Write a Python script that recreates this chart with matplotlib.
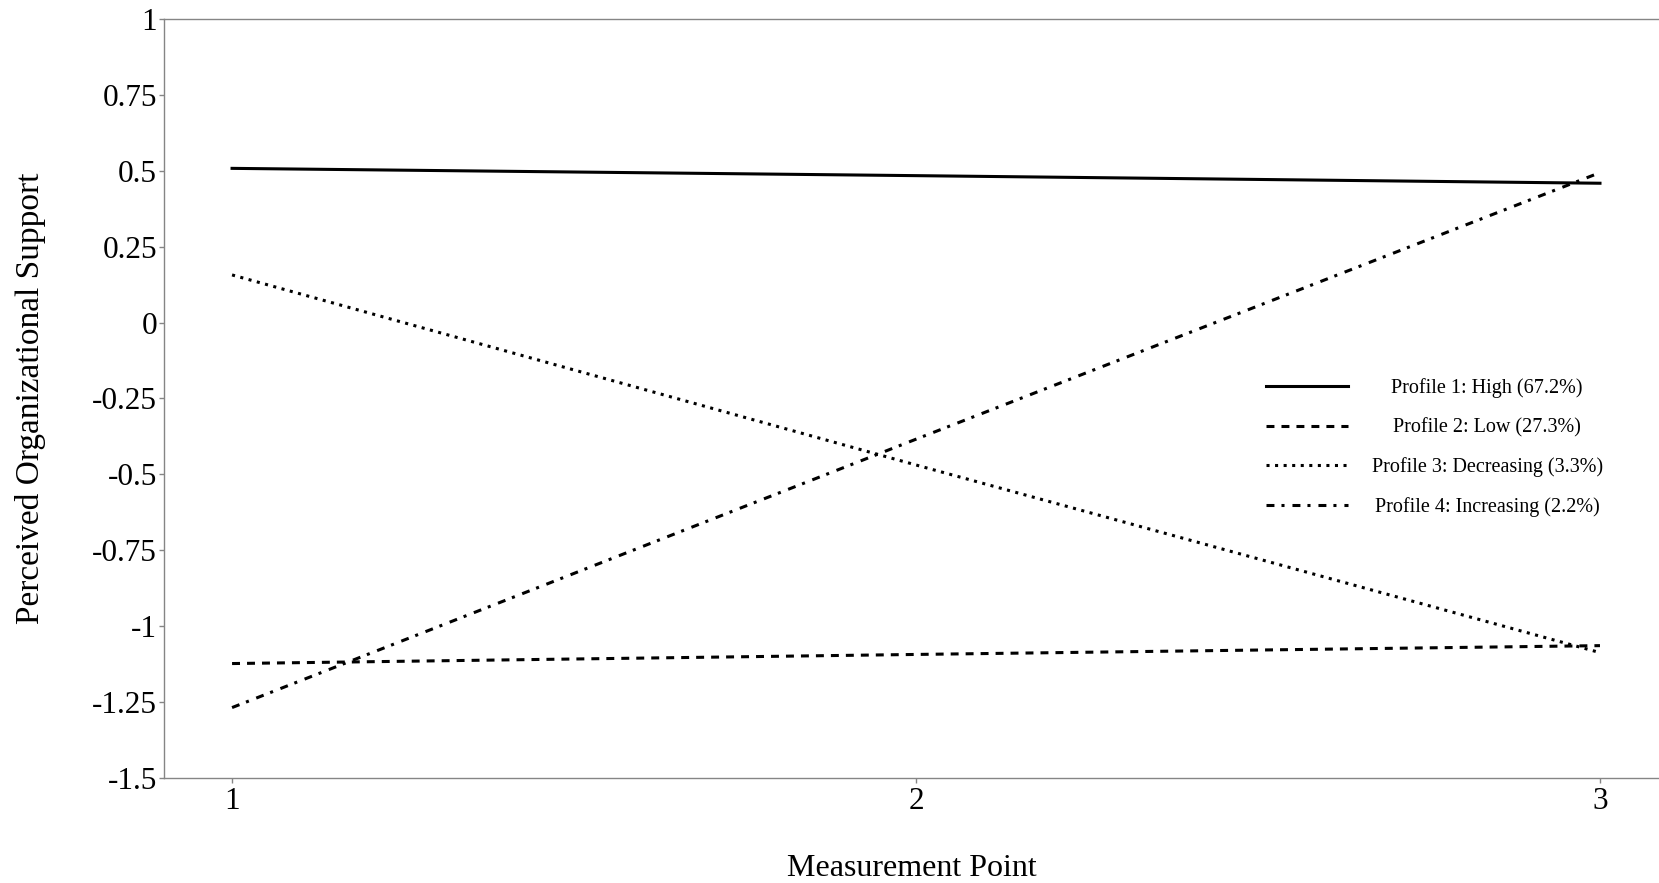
import matplotlib
matplotlib.use("Agg")
import matplotlib.pyplot as plt
from matplotlib.ticker import FuncFormatter, MultipleLocator

# Profile means of perceived organizational support at each measurement point
points = [1, 2, 3]
profileLabels = [
    "Profile 1: High (67.2%)",
    "Profile 2: Low (27.3%)",
    "Profile 3: Decreasing (3.3%)",
    "Profile 4: Increasing (2.2%)",
]
high = [0.508, 0.484, 0.459]
low = [-1.123, -1.093, -1.064]
decreasing = [0.157, -0.469, -1.087]
increasing = [-1.268, -0.384, 0.494]

# Line styles per profile (dash patterns in linewidth units)
styles = [
    "-",
    (0, (2.6, 2.3)),
    (0, (1.0, 1.8)),
    (0, (2.6, 2.3, 1.0, 2.6)),
]

plt.rcParams["font.family"] = ["Liberation Serif", "DejaVu Serif"]
plt.rcParams["axes.unicode_minus"] = False

fig = plt.figure(figsize=(16.59, 8.83), dpi=100)
ax = fig.add_axes([0.0989, 0.1189, 0.9011, 0.8596])

for values, style, label in zip([high, low, decreasing, increasing], styles, profileLabels):
    ax.plot(points, values, color="black", linewidth=2.2, linestyle=style, label=label)

# Axes: left, top and bottom frame in grey, no right frame
ax.set_xlim(0.9006, 3.0863)
ax.set_ylim(-1.5, 1)
ax.set_xticks(points)
ax.yaxis.set_major_locator(MultipleLocator(0.25))
ax.yaxis.set_major_formatter(FuncFormatter(lambda v, pos: f"{v:g}"))
ax.spines["right"].set_visible(False)
for side in ["left", "top", "bottom"]:
    ax.spines[side].set_color("#858585")
    ax.spines[side].set_linewidth(1.0)
ax.tick_params(axis="both", which="both", direction="out", length=3.5, width=1.0,
               color="#858585", labelsize=22.5, pad=1.5)
ax.tick_params(axis="x", pad=3)

ax.set_xlabel("Measurement Point", fontsize=23, labelpad=27)
ax.set_ylabel("Perceived Organizational Support", fontsize=24, labelpad=33)

leg = ax.legend(loc="center left", bbox_to_anchor=(0.737, 0.435), frameon=False,
                fontsize=14.5, handlelength=4.1, handletextpad=1.15,
                labelspacing=0.99, borderpad=0, borderaxespad=0)

# Centre the legend labels within their column
fig.canvas.draw()
renderer = fig.canvas.get_renderer()
widths = [t.get_window_extent(renderer).width for t in leg.get_texts()]
maxWidth = max(widths)
for t, w in zip(leg.get_texts(), widths):
    t.set_x((maxWidth - w) / 2)

fig.savefig("out.png", dpi=100)
